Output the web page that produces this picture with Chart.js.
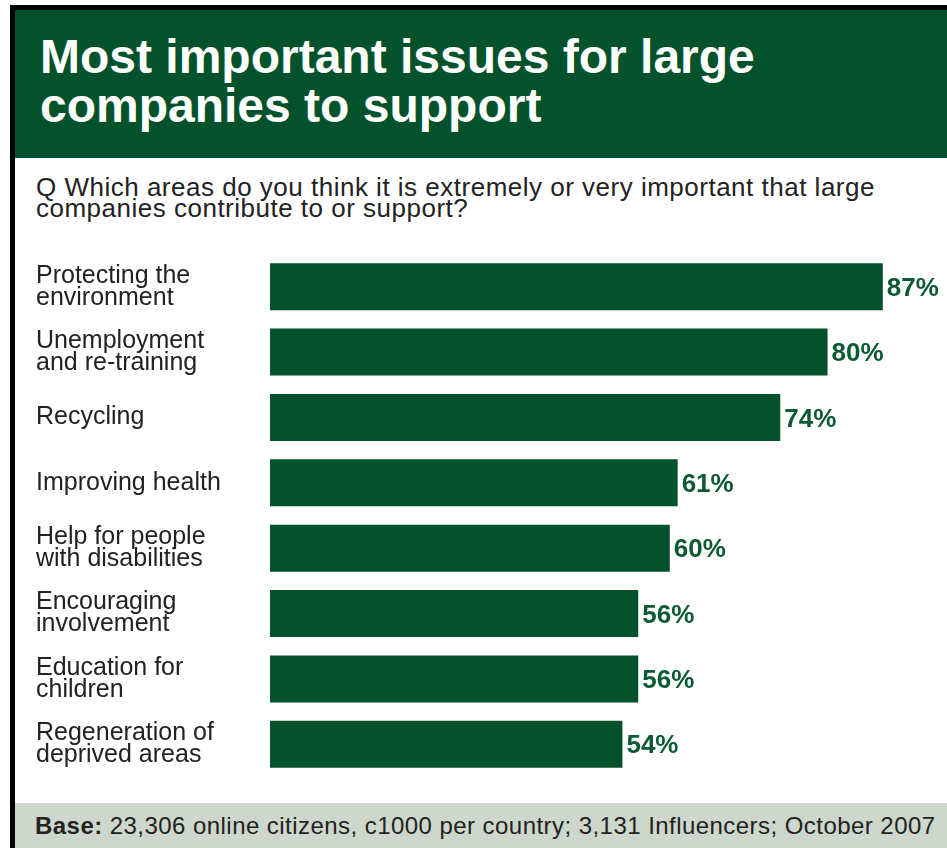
<!DOCTYPE html>
<html>
<head>
<meta charset="utf-8">
<script src="https://cdn.jsdelivr.net/npm/chart.js@4/dist/chart.umd.min.js"></script>
<style>
  html, body { margin:0; padding:0; background:#fff; }
  body { width:947px; height:848px; position:relative; overflow:hidden; font-family:"Liberation Sans", Arial, sans-serif; }
  .frameTop { position:absolute; left:10px; top:5px; width:937px; height:5px; background:#000; }
  .frameLeft { position:absolute; left:10px; top:5px; width:5px; height:843px; background:#000; }
  .head { position:absolute; left:15px; top:10px; width:932px; height:148px; background:#03522c; }
  .title { position:absolute; left:40px; top:32px; color:#fff; font-weight:bold; font-size:48px; line-height:49px; white-space:nowrap; }
  .question { position:absolute; left:36px; top:177px; color:#222; font-size:26px; line-height:21px; letter-spacing:0.5px; white-space:nowrap; }
  .foot { position:absolute; left:15px; top:803px; width:932px; height:45px; background:#cdd7cb; }
  .footText { position:absolute; left:35px; top:814px; color:#222; font-size:24px; line-height:24px; letter-spacing:0.45px; white-space:nowrap; }
  #wrap { position:absolute; left:0; top:240px; width:947px; height:560px; }
</style>
</head>
<body>
<div class="head"></div>
<div class="frameTop"></div>
<div class="frameLeft"></div>
<div class="title">Most important issues for large<br>companies to support</div>
<div class="question">Q Which areas do you think it is extremely or very important that large<br>companies contribute to or support?</div>
<div class="foot"></div>
<div class="footText"><b>Base:</b> 23,306 online citizens, c1000 per country; 3,131 Influencers; October 2007</div>
<div id="wrap"><canvas id="c"></canvas></div>
<script>
// survey answers, share saying extremely/very important
const issues = [
  ['Protecting the', 'environment'],
  ['Unemployment', 'and re-training'],
  'Recycling',
  'Improving health',
  ['Help for people', 'with disabilities'],
  ['Encouraging', 'involvement'],
  ['Education for', 'children'],
  ['Regeneration of', 'deprived areas']
];
const shares = [87, 80, 74, 61, 60, 56, 56, 54];

const GREEN = '#03522c';

// value labels next to each bar
const valueLabels = {
  id: 'valueLabels',
  afterDatasetsDraw(chart){
    const ctx = chart.ctx;
    const bars = chart.getDatasetMeta(0).data;
    ctx.save();
    ctx.font = 'bold 26px "Liberation Sans", Arial, sans-serif';
    ctx.fillStyle = '#0b5a33';
    ctx.textAlign = 'left';
    ctx.textBaseline = 'middle';
    bars.forEach((b, i)=>{
      ctx.fillText(shares[i] + '%', b.x + 4, b.y + 2);
    });
    ctx.restore();
  }
};

new Chart(document.getElementById('c'), {
  type: 'bar',
  data: {
    labels: issues,
    datasets: [{
      data: shares,
      backgroundColor: GREEN,
      borderWidth: 0,
      categoryPercentage: 1,
      barPercentage: 0.72
    }]
  },
  options: {
    indexAxis: 'y',
    responsive: true,
    maintainAspectRatio: false,
    animation: false,
    layout: { padding: { left: 36, right: 7, top: 14, bottom: 23 } },
    plugins: { legend: { display: false }, tooltip: { enabled: false } },
    scales: {
      x: { display: false, min: 9.33, max: 94.25 },
      y: {
        grid: { display: false },
        border: { display: false },
        afterFit(s){ s.width = 234; s.paddingTop = 0; s.paddingBottom = 0; },
        ticks: {
          crossAlign: 'far',
          padding: 0,
          color: '#222',
          font: { family: '"Liberation Sans", Arial, sans-serif', size: 25, lineHeight: 0.88 }
        }
      }
    }
  },
  plugins: [valueLabels]
});
</script>
</body>
</html>
